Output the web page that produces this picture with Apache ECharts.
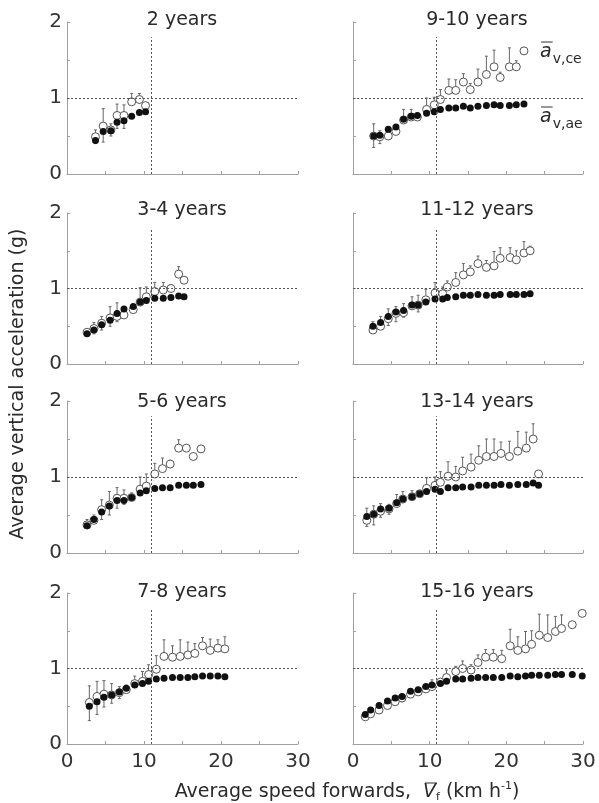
<!DOCTYPE html>
<html>
<head>
<meta charset="utf-8">
<script src="https://cdn.jsdelivr.net/npm/echarts@6/dist/echarts.min.js"></script>
<style>
html,body{margin:0;padding:0;background:#fff;}
#chart{width:599px;height:803px;}
</style>
</head>
<body>
<div id="chart"></div>
<script>
// ---------- DATA ----------
const panelTitles = ['2 years','9-10 years','3-4 years','11-12 years','5-6 years','13-14 years','7-8 years','15-16 years'];
const xTicks = [0,10,20,30];
const yTicks = [0,1,2];

// 2 years
const p1_v    = [3.7,4.7,5.7,6.5,7.4,8.4,9.4,10.2];
const p1_ce   = [0.49,0.63,0.58,0.77,0.77,0.95,0.98,0.90];
const p1_ceHi = [0.58,0.86,0.66,0.92,0.91,1.06,1.06,0.93];
const p1_ae   = [0.44,0.56,0.57,0.68,0.70,0.76,0.81,0.82];
const p1_aeLo = [0.40,0.42,0.50,0.60,0.60,null,null,null];

// 9-10 years
const p2_v    = [2.7,3.5,4.6,5.6,6.6,7.6,8.4,9.6,10.6,11.4,12.5,13.4,14.4,15.3,16.3,17.4,18.4,19.2,20.4,21.3,22.3];
const p2_ce   = [0.50,0.49,0.50,0.56,0.71,0.75,0.75,0.85,0.91,0.98,1.10,1.10,1.21,1.11,1.21,1.31,1.41,1.27,1.41,1.41,1.62];
const p2_ceHi = [0.66,0.57,null,null,0.85,0.85,0.79,1.00,1.01,1.11,1.25,1.24,1.32,1.19,1.38,1.55,1.63,1.34,1.66,1.49,null];
const p2_ae   = [0.50,0.51,0.59,0.62,0.72,0.76,0.77,0.80,0.82,0.85,0.87,0.87,0.89,0.87,0.89,0.90,0.91,0.90,0.90,0.91,0.92];
const p2_aeLo = [0.35,0.40,null,null,null,null,null,null,null,null,null,null,null,null,null,null,null,null,null,null,null];

// 3-4 years
const p3_v    = [2.6,3.5,4.5,5.6,6.5,7.4,8.6,9.5,10.3,11.4,12.5,13.5,14.5,15.2];
const p3_ce   = [0.42,0.47,0.54,0.61,0.63,0.65,0.72,0.82,0.89,0.96,0.98,1.00,1.19,1.11];
const p3_ceHi = [0.45,0.55,0.63,0.76,0.81,null,null,1.01,1.02,1.08,1.08,1.05,1.29,null];
const p3_ae   = [0.40,0.45,0.52,0.58,0.67,0.73,0.76,0.82,0.84,0.87,0.87,0.88,0.90,0.89];
const p3_aeLo = [null,0.40,0.45,0.50,0.56,null,null,null,null,null,null,null,null,null];

// 11-12 years
const p4_v    = [2.6,3.6,4.6,5.6,6.6,7.7,8.5,9.5,10.7,11.7,12.3,13.4,14.4,15.3,16.3,17.4,18.4,19.2,20.5,21.3,22.3,23.1];
const p4_ce   = [0.45,0.50,0.60,0.67,0.68,0.77,0.78,0.85,0.94,0.93,1.02,1.08,1.18,1.22,1.33,1.28,1.30,1.40,1.41,1.38,1.47,1.50];
const p4_ceHi = [0.56,0.63,0.73,0.76,0.80,0.89,0.91,0.99,1.08,1.02,1.10,1.21,1.33,1.30,1.43,1.37,1.49,1.54,1.54,1.50,1.62,1.56];
const p4_ae   = [0.50,0.55,0.63,0.69,0.71,0.78,0.78,0.82,0.86,0.86,0.88,0.89,0.91,0.91,0.92,0.91,0.91,0.92,0.92,0.92,0.92,0.93];
const p4_aeLo = [0.46,0.50,0.51,0.56,0.62,null,0.69,null,null,null,null,null,null,null,null,null,null,null,null,null,null,null];

// 5-6 years
const p5_v    = [2.6,3.5,4.5,5.5,6.5,7.4,8.4,9.5,10.3,11.4,12.4,13.4,14.5,15.5,16.4,17.4];
const p5_ce   = [0.37,0.43,0.57,0.63,0.72,0.72,0.73,0.84,0.88,1.04,1.11,1.17,1.38,1.38,1.27,1.37];
const p5_ceHi = [0.44,0.50,0.70,0.81,0.86,0.83,0.79,1.00,1.04,1.18,1.25,1.22,1.49,null,null,null];
const p5_ae   = [0.36,0.44,0.54,0.62,0.69,0.69,0.73,0.79,0.82,0.85,0.86,0.86,0.89,0.89,0.89,0.90];
const p5_aeLo = [null,0.39,0.44,0.50,0.59,0.64,null,null,null,null,null,null,null,null,null,null];

// 13-14 years
const p6_v    = [1.8,2.7,3.6,4.7,5.7,6.5,7.7,8.7,9.6,10.7,11.4,12.4,13.4,14.3,15.4,16.4,17.4,18.4,19.3,20.4,21.5,22.6,23.5,24.2];
const p6_ce   = [0.43,0.51,0.55,0.58,0.65,0.71,0.74,0.78,0.85,0.89,0.93,1.01,1.00,1.08,1.13,1.22,1.27,1.27,1.31,1.27,1.34,1.38,1.50,1.04];
const p6_ceHi = [0.59,0.62,0.65,0.64,0.77,0.81,0.82,null,0.99,1.00,1.07,1.20,1.14,1.26,1.30,1.41,1.50,1.50,1.46,1.47,1.60,1.59,1.70,null];
const p6_ae   = [0.48,0.51,0.58,0.59,0.66,0.71,0.74,0.78,0.81,0.84,0.81,0.86,0.86,0.87,0.87,0.89,0.89,0.89,0.90,0.89,0.90,0.90,0.92,0.89];
const p6_aeLo = [0.35,0.37,0.47,0.51,null,null,null,null,null,null,null,null,null,null,null,null,null,null,null,null,null,null,null,null];

// 7-8 years
const p7_v    = [2.9,3.9,4.8,5.8,6.8,7.7,8.8,9.8,10.6,11.6,12.6,13.7,14.7,15.7,16.6,17.6,18.6,19.6,20.5];
const p7_ce   = [0.55,0.63,0.66,0.65,0.68,0.72,0.80,0.83,0.92,0.99,1.16,1.15,1.16,1.18,1.20,1.30,1.24,1.27,1.26];
const p7_ceHi = [0.77,0.83,0.84,0.80,0.76,0.78,0.90,0.96,1.05,1.17,1.38,1.30,1.38,1.35,1.33,1.41,1.39,1.38,1.42];
const p7_ae   = [0.50,0.56,0.62,0.65,0.69,0.74,0.78,0.80,0.83,0.86,0.87,0.88,0.88,0.88,0.89,0.90,0.90,0.90,0.89];
const p7_aeLo = [0.31,0.39,0.49,0.54,0.60,null,null,null,null,null,null,null,null,null,null,null,null,null,null];

// 15-16 years
const p8_v    = [1.6,2.3,3.4,4.5,5.5,6.4,7.5,8.5,9.5,10.3,11.4,12.2,13.4,14.3,15.4,16.3,17.3,18.3,19.4,20.5,21.5,22.5,23.3,24.3,25.4,26.4,27.2,28.6,29.9];
const p8_ce   = [0.36,0.40,0.45,0.51,0.56,0.61,0.66,0.69,0.73,0.76,0.82,0.88,0.96,1.00,0.98,1.08,1.15,1.15,1.13,1.30,1.24,1.26,1.32,1.44,1.41,1.49,1.53,1.58,1.73];
const p8_ceHi = [null,null,null,null,0.60,null,null,null,null,0.85,null,0.98,1.03,1.10,1.05,1.18,1.25,1.25,1.24,1.52,1.42,1.49,1.50,1.72,1.71,1.69,1.71,null,null];
const p8_ae   = [0.39,0.45,0.51,0.57,0.61,0.63,0.70,0.72,0.76,0.78,0.80,0.83,0.86,0.86,0.87,0.88,0.88,0.88,0.88,0.90,0.89,0.90,0.91,0.91,0.91,0.92,0.92,0.92,0.90];
const p8_aeLo = [null,null,null,null,null,0.56,null,null,null,null,null,null,null,null,null,null,null,null,null,null,null,null,null,null,null,null,null,null,null];

const transitionSpeed = 10.9;
const panels = [
  [p1_v,p1_ce,p1_ceHi,p1_ae,p1_aeLo],
  [p2_v,p2_ce,p2_ceHi,p2_ae,p2_aeLo],
  [p3_v,p3_ce,p3_ceHi,p3_ae,p3_aeLo],
  [p4_v,p4_ce,p4_ceHi,p4_ae,p4_aeLo],
  [p5_v,p5_ce,p5_ceHi,p5_ae,p5_aeLo],
  [p6_v,p6_ce,p6_ceHi,p6_ae,p6_aeLo],
  [p7_v,p7_ce,p7_ceHi,p7_ae,p7_aeLo],
  [p8_v,p8_ce,p8_ceHi,p8_ae,p8_aeLo]
];

// ---------- LAYOUT ----------
const FONT = '"DejaVu Sans", "Liberation Sans", Arial, sans-serif';
const colLeft = [67, 353];
const colWidth = [231, 230];
const rowTop = [22, 213, 401, 593];
const rowHeight = [152, 151, 152, 151];
const titleCX = [182, 477];
const titleCY = [20, 210, 402, 592];

const grids = [], xAxes = [], yAxes = [], series = [], graphics = [];
const axisCol = '#a0a0a0';

function errRender(params, api) {
  const x = api.value(0), y0 = api.value(1), y1 = api.value(2);
  const p0 = api.coord([x, y0]);
  const p1 = api.coord([x, y1]);
  return {
    type: 'group',
    children: [
      {type:'line', shape:{x1:p0[0],y1:p0[1],x2:p1[0],y2:p1[1]}, style:{stroke:'#666',lineWidth:1}},
      {type:'line', shape:{x1:p1[0]-1.5,y1:p1[1],x2:p1[0]+1.5,y2:p1[1]}, style:{stroke:'#666',lineWidth:1}}
    ]
  };
}

function txt(x, y, text, size, opts) {
  opts = opts || {};
  return {
    type:'text', x:x, y:y, rotation: opts.rotation || 0,
    style:{text:text, fontSize:size, fontFamily:FONT, fontWeight:'normal',
      fontStyle: opts.italic ? 'italic' : 'normal', fill:'#2a2a2a',
      textAlign: opts.align || 'center', textVerticalAlign:'middle'}
  };
}

panels.forEach((pd, i) => {
  const col = i % 2, row = Math.floor(i / 2);
  const bottom = row === 3;
  grids.push({left: colLeft[col], top: rowTop[row], width: colWidth[col], height: rowHeight[row]});
  xAxes.push({
    type:'value', gridIndex:i, min:0, max:30, interval:5,
    axisLine:{show:true, onZero:false, lineStyle:{color:axisCol,width:1}},
    axisTick:{show:true, inside:true, length:3, lineStyle:{color:axisCol}},
    axisLabel:{show:bottom, fontFamily:FONT, fontSize:20, color:'#333', margin:8,
      formatter: v => (xTicks.indexOf(v) >= 0 ? String(v) : '')},
    splitLine:{show:false}
  });
  yAxes.push({
    type:'value', gridIndex:i, min:0, max:2, interval:0.5,
    axisLine:{show:true, onZero:false, lineStyle:{color:axisCol,width:1}},
    axisTick:{show:true, inside:true, length:3, lineStyle:{color:axisCol}},
    axisLabel:{show:col===0, fontFamily:FONT, fontSize:20, color:'#333', margin:5,
      formatter: v => (yTicks.indexOf(v) >= 0 ? String(v) : '')},
    splitLine:{show:false}
  });
  const [v, ce, ceHi, ae, aeLo] = pd;
  const ceErr = [], aeErr = [];
  v.forEach((s, k) => {
    if (ceHi[k] != null) ceErr.push([s, ce[k], ceHi[k]]);
    if (aeLo[k] != null) aeErr.push([s, ae[k], aeLo[k]]);
  });
  series.push({
    type:'custom', xAxisIndex:i, yAxisIndex:i, renderItem: errRender,
    data: ceErr.concat(aeErr), z:1, silent:true, clip:false
  });
  series.push({
    type:'scatter', xAxisIndex:i, yAxisIndex:i, symbol:'circle', symbolSize:8,
    itemStyle:{color:'#fff', borderColor:'#555', borderWidth:1, opacity:1},
    data: v.map((s,k)=>[s, ce[k]]), z:3, silent:true,
    markLine:{
      silent:true, symbol:'none', animation:false,
      label:{show:false},
      lineStyle:{type:[2,2], color:'#555', width:1},
      data:[
        [{coord:[0,1]},{coord:[30,1]}],
        [{coord:[transitionSpeed,0]},{coord:[transitionSpeed,1.8]}]
      ]
    }
  });
  series.push({
    type:'scatter', xAxisIndex:i, yAxisIndex:i, symbol:'circle', symbolSize:7,
    itemStyle:{color:'#111', opacity:1},
    data: v.map((s,k)=>[s, ae[k]]), z:4, silent:true
  });
  graphics.push(txt(titleCX[col], titleCY[row], panelTitles[i], 19));
});

// measure helper
const mctx = document.createElement('canvas').getContext('2d');
function tw(s, size, italic){ mctx.font = (italic ? 'italic ' : '') + size + 'px ' + FONT; return mctx.measureText(s).width; }

// y axis title
graphics.push(txt(18, 384, 'Average vertical acceleration (g)', 19, {rotation:Math.PI/2}));

// x axis title, built from parts
(function(){
  const parts = [
    {t:'Average speed forwards,  ', s:19, dy:0},
    {t:'V', s:19, it:true, dy:0, over:true},
    {t:'f', s:11, dy:5},
    {t:' (km h', s:19, dy:0},
    {t:'-1', s:11, dy:-6},
    {t:')', s:19, dy:0}
  ];
  let W = 0; parts.forEach(p => { p.w = tw(p.t, p.s, p.it); W += p.w; });
  let x = 347 - W/2; const y = 792;
  parts.forEach(p => {
    graphics.push(txt(x, y + p.dy, p.t, p.s, {align:'left', italic:p.it}));
    if (p.over) graphics.push({type:'line', shape:{x1:x+2, y1:y-9, x2:x+p.w+1, y2:y-9}, style:{stroke:'#333', lineWidth:1}});
    x += p.w;
  });
})();

// legend labels in 9-10 panel
[['v,ce', 52], ['v,ae', 117]].forEach(([sub, yc]) => {
  const x0 = 540, wa = tw('a', 19, true);
  graphics.push(txt(x0, yc, 'a', 19, {align:'left', italic:true}));
  graphics.push({type:'line', shape:{x1:x0+1, y1:yc-10, x2:x0+wa+1, y2:yc-10}, style:{stroke:'#333', lineWidth:1}});
  graphics.push(txt(x0+wa+1, yc+7, sub, 14, {align:'left'}));
});

const chart = echarts.init(document.getElementById('chart'), null, {renderer:'canvas'});
chart.setOption({
  animation:false,
  backgroundColor:'#fff',
  grid: grids, xAxis: xAxes, yAxis: yAxes, series: series,
  graphic: graphics
});
</script>
</body>
</html>
